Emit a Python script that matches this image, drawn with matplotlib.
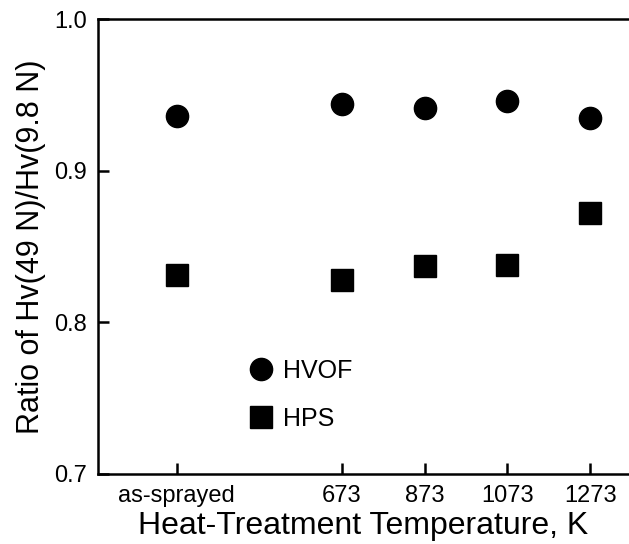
import numpy as np
import matplotlib
matplotlib.use("Agg")
import matplotlib.pyplot as plt

plt.rcParams['font.family'] = ['Liberation Sans', 'DejaVu Sans']

# heat-treatment temperature (K); as-sprayed placed at room temperature
temps = [273, 673, 873, 1073, 1273]
tick_labels = ['as-sprayed', '673', '873', '1073', '1273']
hvof = [0.936, 0.944, 0.941, 0.946, 0.935]
hps = [0.831, 0.828, 0.837, 0.838, 0.872]

fig = plt.figure(figsize=(6.29, 5.44), dpi=100)
ax = fig.add_axes([0.156, 0.129, 0.844, 0.836])

ax.plot(temps, hvof, 'o', color='black', markersize=16, label='HVOF')
ax.plot(temps, hps, 's', color='black', markersize=16, label='HPS')

ax.set_xlim(83, 1367)
ax.set_ylim(0.7, 1.0)
ax.set_xticks(temps)
ax.set_xticklabels(tick_labels)
ax.set_yticks([0.7, 0.8, 0.9, 1.0])
ax.set_yticklabels(['0.7', '0.8', '0.9', '1.0'])
ax.tick_params(direction='in', length=8, width=1.8, labelsize=17, pad=8)
for s in ['left', 'top', 'bottom']:
    ax.spines[s].set_linewidth(1.8)
ax.spines['right'].set_visible(False)

ax.set_xlabel('Heat-Treatment Temperature, K', fontsize=23, labelpad=3)
ax.set_ylabel('Ratio of Hv(49 N)/Hv(9.8 N)', fontsize=22, labelpad=6)

ax.legend(loc='upper left', bbox_to_anchor=(0.24, 0.302), frameon=False, fontsize=18,
          handletextpad=0.4, labelspacing=0.95, markerscale=1.0, handlelength=1.0)

fig.savefig('out.png', dpi=100)
